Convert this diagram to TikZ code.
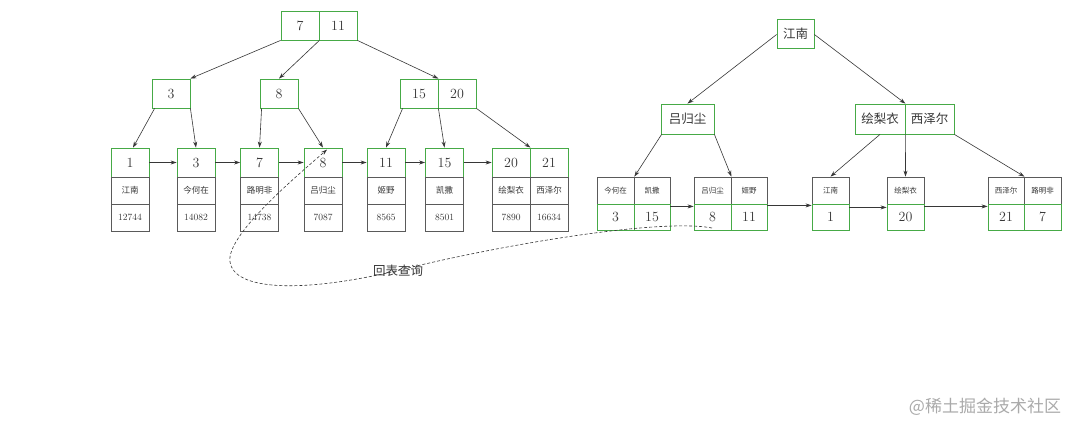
\documentclass[tikz,border=0pt]{standalone}
\usepackage{fontspec}
\newfontfamily\cjk{Noto Sans CJK SC}
\usetikzlibrary{arrows.meta}
\definecolor{gbox}{RGB}{70,170,70}
\definecolor{kbox}{RGB}{90,90,90}
\definecolor{txt}{RGB}{55,55,55}
\definecolor{wm}{RGB}{170,170,170}
\tikzset{
  cellbase/.style={draw, line width=0.8pt, inner sep=0pt, text=txt, anchor=center},
  gcell/.style={cellbase, draw=gbox},
  kcell/.style={cellbase, draw=kbox},
  big/.style={font=\fontsize{14}{14}\selectfont},
  smallcn/.style={font=\cjk\fontsize{8.5}{9}\selectfont},
  tinycn/.style={font=\cjk\fontsize{7.5}{8}\selectfont},
  smallnum/.style={font=\fontsize{9.5}{10}\selectfont},
  midcn/.style={font=\cjk\fontsize{12.5}{13}\selectfont},
  arr/.style={draw=txt, line width=0.6pt, -{Stealth[length=6pt,width=4pt]}},
}
\begin{document}
\begin{tikzpicture}[x=1pt,y=-1pt]
\useasboundingbox[fill=white] (0,0) rectangle (1080,433);
% ---------------- left tree ----------------
\node[gcell,big,minimum width=38,minimum height=29] (R7) at (300,25.5) {7};
\node[gcell,big,minimum width=38,minimum height=29] (R11) at (338,25.5) {11};
\node[gcell,big,minimum width=38,minimum height=29] (A3) at (171,93.5) {3};
\node[gcell,big,minimum width=38,minimum height=29] (A8) at (279,93.5) {8};
\node[gcell,big,minimum width=38,minimum height=29] (A15) at (419,93.5) {15};
\node[gcell,big,minimum width=38,minimum height=29] (A20) at (457,93.5) {20};
% leaves
\foreach \n/\x/\k/\name/\v in {L1/130/1/江南/12744, L3/196/3/今何在/14082, L7/259.5/7/路明非/14738, L8/323/8/吕归尘/7087, L11/386/11/姬野/8565, L15/444.5/15/凯撒/8501, L20/511/20/绘梨衣/7890, L21/549/21/西泽尔/16634}{
  \node[gcell,big,minimum width=38,minimum height=29] (\n) at (\x,162.5) {\k};
  \node[kcell,smallcn,minimum width=38,minimum height=27] (\n m) at (\x,190.5) {\name};
  \node[kcell,smallnum,minimum width=38,minimum height=27] (\n b) at (\x,217.5) {\v};
}
% root -> level 2
\draw[arr] (R7.south west) -- (A3.north east);
\draw[arr] (R7.south east) -- (A8.north);
\draw[arr] (R11.south east) -- (A15.north east);
% level 2 -> leaves
\draw[arr] ([xshift=3pt]A3.south west) -- ([xshift=3pt]L1.north);
\draw[arr] (A3.south east) -- (L3.north);
\draw[arr] ([xshift=2pt]A8.south west) -- (L7.north);
\draw[arr] (A8.south east) -- (L8.north);
\draw[arr] ([xshift=3pt]A15.south west) -- (L11.north);
\draw[arr] (A15.south east) -- (L15.north);
\draw[arr] (A20.south east) -- (L20.north east);
% leaf links
\draw[arr] (L1.east) -- (L3.west);
\draw[arr] (L3.east) -- (L7.west);
\draw[arr] (L7.east) -- (L8.west);
\draw[arr] (L8.east) -- (L11.west);
\draw[arr] (L11.east) -- (L15.west);
\draw[arr] (L15.east) -- (L20.west);
% ---------------- right tree ----------------
\node[gcell,midcn,minimum width=37,minimum height=29] (S) at (795.5,33.5) {江南};
\node[gcell,midcn,minimum width=53,minimum height=30] (B1) at (687.5,119) {吕归尘};
\node[gcell,midcn,minimum width=50,minimum height=30] (B2) at (880,119) {绘梨衣};
\node[gcell,midcn,minimum width=49,minimum height=30] (B3) at (929.5,119) {西泽尔};
\foreach \n/\x/\name/\v/\w in {P1/615.5/今何在/3/37, P2/652/凯撒/15/36, P3/712.5/吕归尘/8/37, P4/749/姬野/11/36, P5/830.5/江南/1/37, P6/905.5/绘梨衣/20/37, P7/1006/西泽尔/21/36, P8/1042.5/路明非/7/37}{
  \node[kcell,tinycn,minimum width=\w,minimum height=27] (\n) at (\x,190.5) {\name};
  \node[gcell,big,minimum width=\w,minimum height=26] (\n b) at (\x,217) {\v};
}
\draw[arr] ([yshift=-1pt]S.west) -- (B1.north);
\draw[arr] ([yshift=-1pt]S.east) -- (B2.north east);
\draw[arr] ([xshift=1pt]B1.south west) -- (P1.north east);
\draw[arr] (B1.south east) -- (P3.north east);
\draw[arr] (B2.south) -- (P5.north);
\draw[arr] (B2.south east) -- (P6.north);
\draw[arr] (B3.south east) -- (P7.north east);
\draw[arr] ([yshift=-2pt]P2.south east) -- ([yshift=-2pt]P3.south west);
\draw[arr] ([yshift=-1pt]P4.south east) -- ([yshift=-1pt]P5.south west);
\draw[arr] ([yshift=-3pt]P5.south east) -- ([yshift=-3pt]P6.south west);
\draw[arr] ([yshift=-2pt]P6.south east) -- ([yshift=-2pt]P7.south west);
% ---------------- back-to-table dashed curve ----------------
\coordinate (dstart) at (712,228);
\coordinate (dmid) at (400,270);
\coordinate (dturn) at (230,262);
\draw[draw=txt, line width=0.6pt, dash pattern=on 3pt off 2pt, -{Stealth[length=6pt,width=4pt]}]
  (dstart) .. controls (660,218) and (500,245) .. (dmid)
  .. controls (300,294) and (234,290) .. (dturn)
  .. controls (226,236) and (292,180) .. ([xshift=4pt,yshift=-2pt]L8.north);
\node[text=txt, font=\cjk\fontsize{12.5}{13}\selectfont, inner sep=0pt] (lbl) at (398,271) {回表查询};
% watermark
\node[text=wm, font=\cjk\fontsize{17}{17}\selectfont, inner sep=0pt] (wmk) at (985,407) {@稀土掘金技术社区};
\end{tikzpicture}
\end{document}
